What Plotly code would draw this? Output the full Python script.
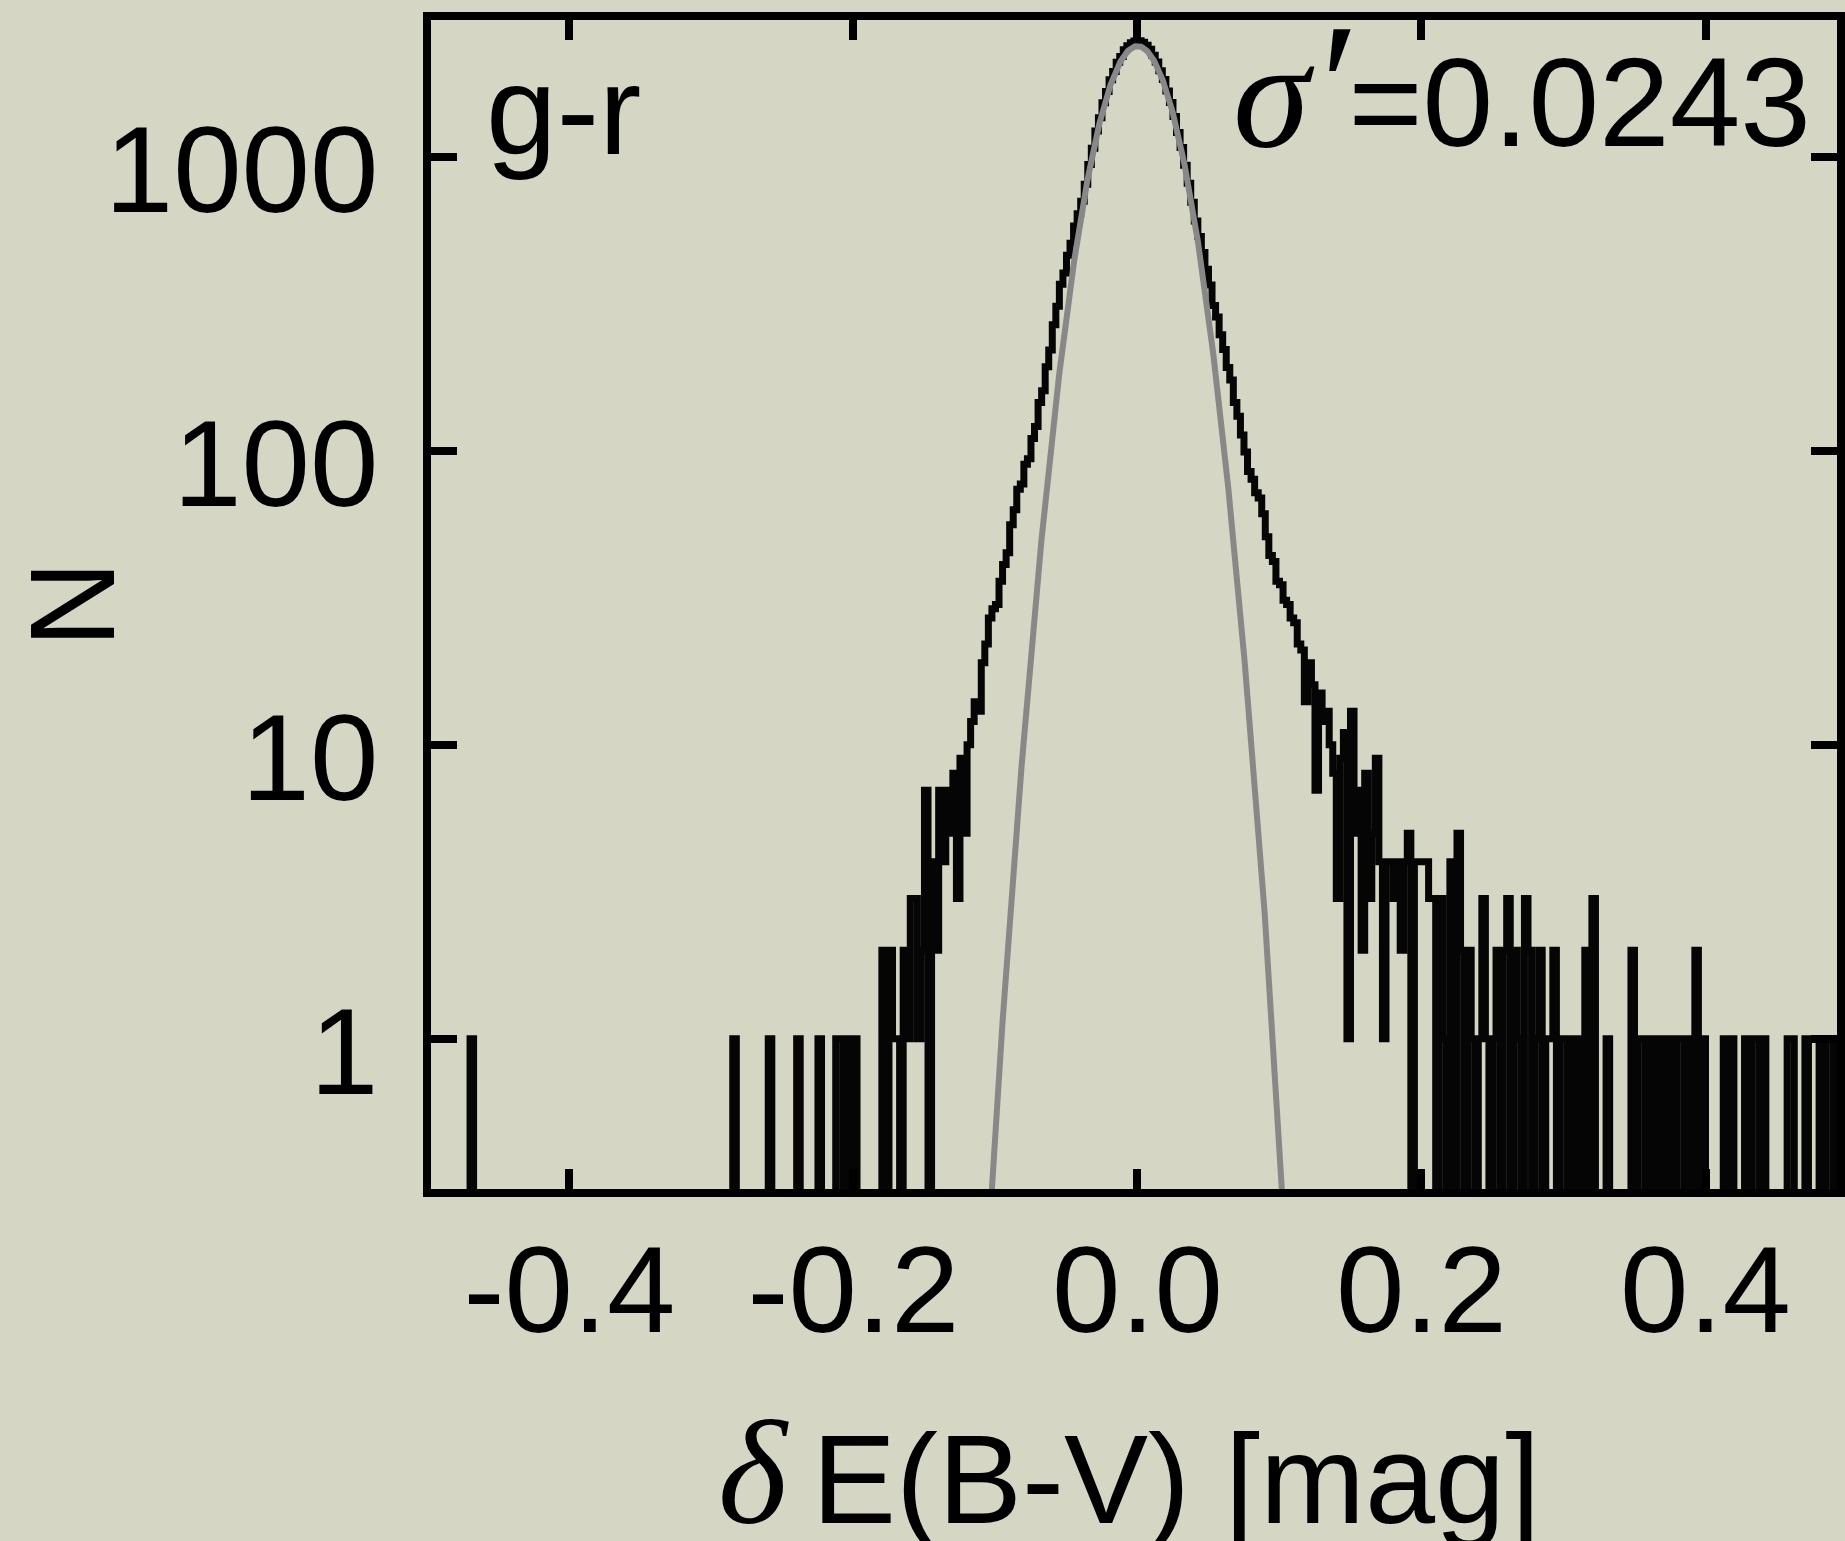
import numpy as np
import plotly.graph_objects as go

# ---------------- data ----------------
bin_start = -0.5
bin_width = 0.0025

# histogram counts, 400 bins of 0.0025 from -0.5 to 0.5 (rows of 20 bins)
counts = [
    0, 0, 0, 0, 0, 0, 0, 0, 0, 0, 0, 0, 1, 0, 0, 0, 0, 0, 0, 0,          # -0.500 .. -0.450
    0, 0, 0, 0, 0, 0, 0, 0, 0, 0, 0, 0, 0, 0, 0, 0, 0, 0, 0, 0,          # -0.450 .. -0.400
    0, 0, 0, 0, 0, 0, 0, 0, 0, 0, 0, 0, 0, 0, 0, 0, 0, 0, 0, 0,          # -0.400 .. -0.350
    0, 0, 0, 0, 0, 0, 0, 0, 0, 0, 0, 0, 0, 0, 0, 0, 0, 0, 0, 0,          # -0.350 .. -0.300
    0, 0, 0, 0, 0, 0, 1, 0, 0, 0, 0, 0, 0, 0, 0, 0, 1, 0, 0, 0,          # -0.300 .. -0.250
    0, 0, 0, 0, 1, 0, 0, 0, 0, 0, 1, 0, 0, 0, 0, 1, 1, 0, 1, 0,          # -0.250 .. -0.200
    1, 0, 0, 0, 0, 0, 0, 0, 2, 0, 2, 1, 1, 0, 2, 1, 3, 3, 1, 2,          # -0.200 .. -0.150
    7, 0, 4, 2, 7, 4, 7, 5, 8, 3, 9, 5, 10, 12, 14, 13, 19, 22, 27, 29,  # -0.150 .. -0.100
    30, 36, 41, 45, 56, 63, 74, 77, 90, 94, 110, 121, 146, 160, 193, 220, 268, 310, 368, 402,
    462, 508, 581, 640, 705, 806, 940, 1068, 1222, 1358, 1527, 1665, 1826, 1950, 2097, 2190, 2310, 2385, 2440, 2475,
    2480, 2450, 2392, 2318, 2215, 2100, 1962, 1830, 1672, 1530, 1370, 1210, 1075, 935, 812, 700, 605, 535, 472, 414,
    366, 312, 285, 248, 221, 192, 174, 146, 131, 113, 99, 85, 80, 72, 69, 61, 51, 44, 42, 36,
    35, 31, 30, 27, 26, 22, 21, 14, 19, 16, 7, 15, 12, 13, 10, 8, 3, 9, 11, 1,   # 0.100 .. 0.150
    13, 5, 7, 2, 8, 3, 5, 9, 4, 1, 4, 4, 3, 4, 2, 4, 5, 0, 4, 4,                 # 0.150 .. 0.200
    4, 4, 3, 3, 0, 3, 1, 0, 4, 0, 5, 2, 0, 2, 1, 0, 1, 3, 1, 0,                  # 0.200 .. 0.250
    1, 2, 0, 2, 3, 0, 2, 1, 0, 3, 2, 0, 1, 2, 0, 1, 1, 2, 0, 1,                  # 0.250 .. 0.300
    1, 0, 1, 0, 1, 0, 2, 0, 3, 0, 0, 0, 1, 0, 0, 0, 0, 0, 0, 2,                  # 0.300 .. 0.350
    0, 1, 1, 0, 1, 0, 1, 0, 1, 0, 1, 0, 1, 1, 0, 1, 0, 2, 0, 1,                  # 0.350 .. 0.400
    0, 0, 0, 0, 0, 1, 0, 1, 0, 0, 0, 1, 0, 1, 1, 0, 1, 0, 0, 0,                  # 0.400 .. 0.450
    0, 0, 0, 1, 1, 0, 0, 0, 1, 0, 0, 0, 1, 0, 1, 1, 0, 1, 0, 1,                  # 0.450 .. 0.500
]

# Gaussian fit shown in grey
gauss_peak = 2380.0
gauss_sigma = 0.0243

x_tick_vals = [-0.4, -0.2, 0.0, 0.2, 0.4]
x_tick_text = ["-0.4", "-0.2", "0.0", "0.2", "0.4"]
y_tick_vals = [1, 10, 100, 1000]
y_tick_text = ["1", "10", "100", "1000"]

label_color = "g-r"
label_sigma = "0.0243"

# ---------------- figure ----------------
BG = "#d5d6c4"
FONT = "Liberation Sans, Arial, Helvetica, sans-serif"

edges = bin_start + bin_width * np.arange(len(counts) + 1)
floor_val = 0.01  # empty bins drop below the axis floor
y_hist = [c if c > 0 else floor_val for c in counts]
x_step = list(edges[:-1]) + [edges[-1]]
y_step = y_hist + [floor_val]

gx = np.linspace(-0.14, 0.14, 801)
gy = gauss_peak * np.exp(-gx ** 2 / (2 * gauss_sigma ** 2))

fig = go.Figure()
fig.add_trace(go.Scatter(x=x_step, y=y_step, mode="lines",
                         line=dict(color="#050505", width=7, shape="hv"),
                         hoverinfo="skip", showlegend=False))
fig.add_trace(go.Scatter(x=gx, y=gy, mode="lines",
                         line=dict(color="#888888", width=6),
                         hoverinfo="skip", showlegend=False))

fig.update_layout(
    width=1845, height=1541,
    margin=dict(l=431, r=0, t=20, b=352, pad=0),
    paper_bgcolor=BG, plot_bgcolor=BG,
    font=dict(family=FONT, color="black", size=122),
    showlegend=False,
)

fig.update_xaxes(
    range=[-0.4975, 0.4926],
    tickmode="array", tickvals=x_tick_vals, ticktext=x_tick_text,
    ticks="inside", ticklen=20, tickwidth=8, tickcolor="black",
    showline=True, linewidth=8, linecolor="black", mirror="ticks",
    showgrid=False, zeroline=False,
    tickfont=dict(family=FONT, size=123, color="black"),
    ticklabelstandoff=-13,
)
fig.update_yaxes(
    type="log", range=[-0.511, 3.465],
    tickmode="array", tickvals=y_tick_vals, ticktext=y_tick_text,
    ticks="inside", ticklen=26, tickwidth=8, tickcolor="black",
    showline=True, linewidth=8, linecolor="black", mirror="ticks",
    showgrid=False, zeroline=False,
    tickfont=dict(family=FONT, size=123, color="black"),
    ticklabelstandoff=20, ticklabelshift=12,
)

# in-plot labels
fig.add_annotation(xref="paper", yref="y", x=0, y=3, xanchor="left", yanchor="bottom",
                   xshift=53, yshift=-26, showarrow=False, text=label_color,
                   font=dict(family=FONT, size=127, color="black"))
fig.add_annotation(xref="paper", yref="y", x=1, y=3, xanchor="right", yanchor="bottom",
                   xshift=-24, yshift=-30, showarrow=False,
                   text='<span style="font-family:Liberation Serif;font-size:155px"><i>σ</i></span>'
                        '<span style="font-family:Liberation Serif;font-size:178px"><i>′</i></span>=' + label_sigma,
                   font=dict(family=FONT, size=127, color="black"))

# axis titles
fig.add_annotation(xref="paper", yref="paper", x=0.5, y=0, xanchor="center", yanchor="top",
                   xshift=-5, yshift=-200, showarrow=False,
                   text='<span style="font-family:Liberation Serif;font-size:148px"><i>δ</i></span>\u2009E(B-V) [mag]',
                   font=dict(family=FONT, size=126, color="black"))
fig.add_annotation(xref="paper", yref="paper", x=0, y=0.5, xanchor="center", yanchor="middle",
                   xshift=-360, showarrow=False, textangle=-90, text="N",
                   font=dict(family=FONT, size=120, color="black"))

fig.write_html("out.html")
